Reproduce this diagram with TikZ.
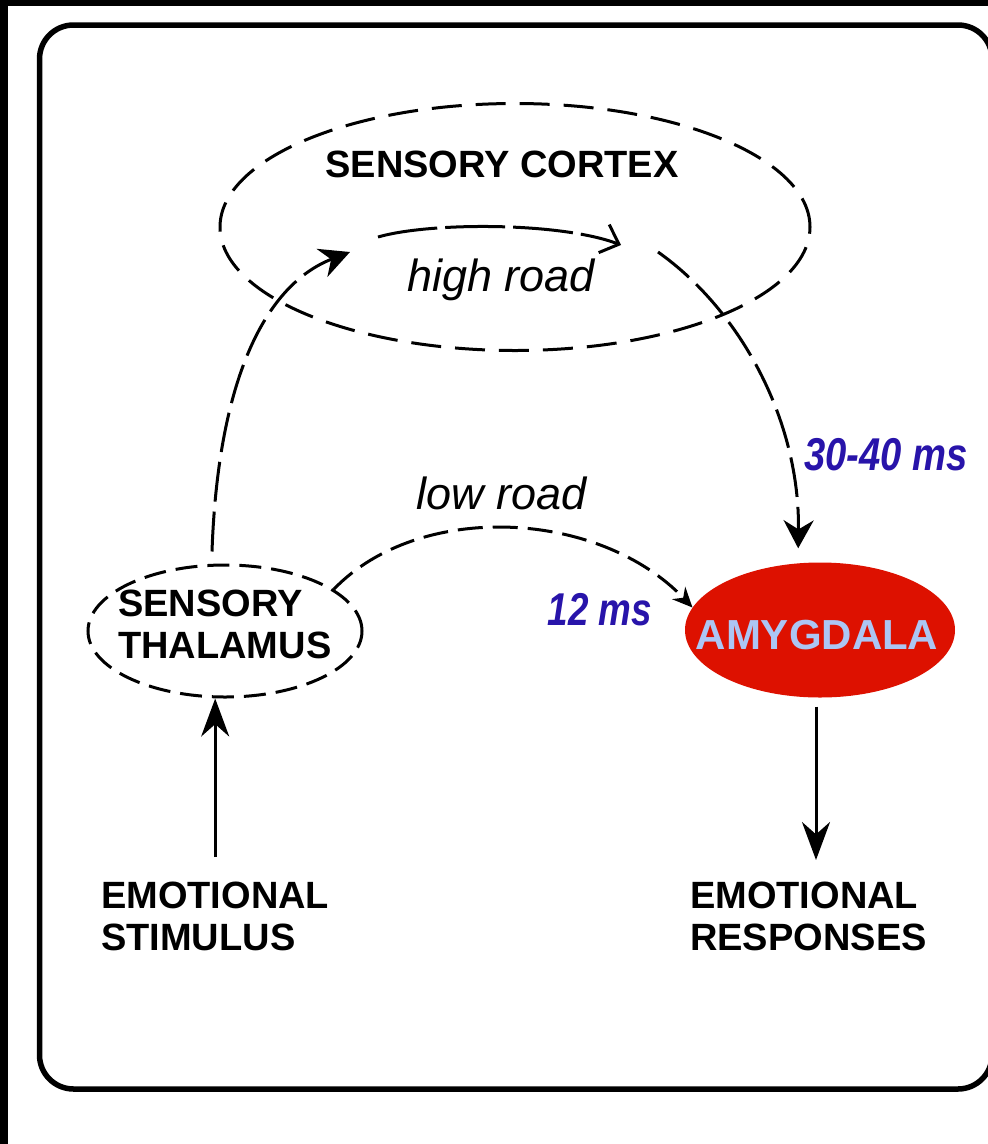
\documentclass[tikz,border=0pt]{standalone}
\usepackage{fontspec}
\setmainfont{Liberation Sans}
\usepackage{graphicx}
\usetikzlibrary{arrows.meta,shapes.geometric}
\definecolor{amygred}{RGB}{221,17,0}
\definecolor{amygtext}{RGB}{172,198,244}
\definecolor{msblue}{RGB}{40,20,170}
\begin{document}
\begin{tikzpicture}[x=1pt,y=-1pt,
  every node/.style={font=\fontsize{38}{42}\selectfont\bfseries,inner sep=0pt},
  roadlabel/.style={font=\fontsize{45}{50}\selectfont\itshape},
  msnote/.style={font=\fontsize{46}{50}\selectfont\bfseries\itshape,text=msblue},
  conn/.style={line width=3pt,dash pattern=on 40pt off 10pt},
  arr/.style={line width=3pt,-{Stealth[length=38pt,width=28pt]}}]
% frame
\useasboundingbox (0,0) rectangle (988,1144);
\clip (0,0) rectangle (988,1144);
\fill[white] (0,0) rectangle (988,1144);
\fill (0,0) rectangle (988,6);
\fill (0,0) rectangle (8,1144);
\draw[line width=5.5pt,rounded corners=34pt] (39.5,25) rectangle (992,1089);
% sensory cortex
\node[draw,ellipse,line width=3pt,dash pattern=on 30pt off 14pt,minimum width=590pt,minimum height=247pt] (cortex) at (515,227) {};
\node (cortexlabel) at (502,164) {SENSORY CORTEX};
\node[roadlabel] (high) at (501,280) {high road};
\coordinate (hrstart) at (378,237);
\coordinate (hrend) at (621,245);
\draw[line width=3pt,dash pattern=on 60pt off 8pt,-{Straight Barb[length=16pt,width=30pt]}] (hrstart) .. controls (430,222) and (560,222) .. (hrend);
\coordinate (hrin) at (350,252);
\coordinate (hrout) at (658,252);
% sensory thalamus
\node[draw,ellipse,line width=3pt,dash pattern=on 22pt off 10pt,minimum width=274pt,minimum height=132pt] (thal) at (225,631) {};
\node[anchor=north west,align=left] (thallabel) at (118,590) {SENSORY\\THALAMUS};
% amygdala
\node[ellipse,fill=amygred,minimum width=270pt,minimum height=135pt] (amyg) at (820,630) {};
\node[text=amygtext,font=\fontsize{42}{46}\selectfont\bfseries] (amyglabel) at (817,635) {AMYGDALA};
% stimulus and responses
\node[anchor=north west,align=left] (stim) at (101,882) {EMOTIONAL\\STIMULUS};
\node[anchor=north west,align=left] (resp) at (690,882) {EMOTIONAL\\RESPONSES};
% timings
\node[msnote] (slow) at (886,455) {\scalebox{0.83}[1]{30-40 ms}};
\node[msnote] (fast) at (600,610) {\scalebox{0.8}[1]{12 ms}};
\node[roadlabel] (low) at (502,493) {low road};
% connectors
\draw[conn,-{Stealth[length=30pt,width=30pt]}] ([xshift=-13pt,yshift=12pt]thal.north) .. controls (218,380) and (265,285) .. (hrin);
\draw[conn,-{Stealth[length=28pt,width=30pt]},shorten >=14pt] (hrout) .. controls (740,310) and (800,420) .. ([xshift=-22pt]amyg.north);
\draw[line width=3pt,dash pattern=on 25pt off 10pt,-{Stealth[length=20pt,width=18pt]}] (thal.21) .. controls (420,500) and (600,510) .. (amyg.170);
\draw[arr,shorten <=25pt] (stim.north) -- (stim.north |- thal.south);
\draw[arr,shorten <=9pt] ([xshift=-4pt]amyg.south) -- ([xshift=-4pt,yshift=22pt]amyg.south |- resp.north);
\end{tikzpicture}
\end{document}
